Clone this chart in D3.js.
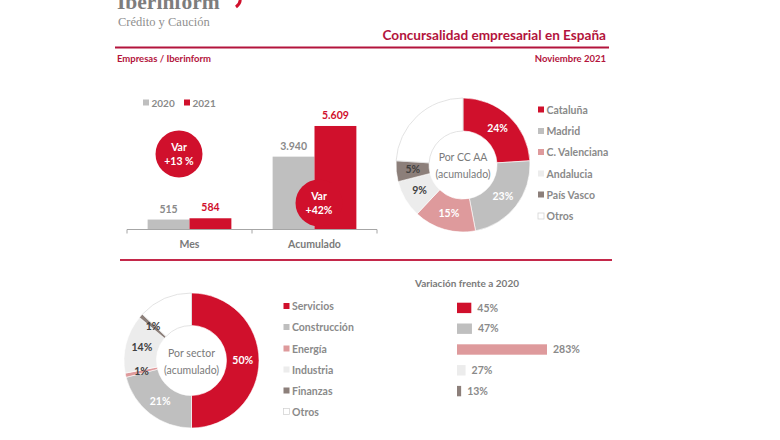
<!DOCTYPE html>
<html><head><meta charset="utf-8">
<script src="https://cdn.jsdelivr.net/npm/d3@7"></script>
<style>
html,body{margin:0;padding:0;background:#fff;}
svg{display:block;font-family:Lato,"Open Sans",sans-serif;}
</style></head>
<body>
<svg id="c" width="780" height="440"></svg>
<script>
// ---------- data ----------
const years = ["2020", "2021"];
const barCategories = ["Mes", "Acumulado"];
const values2020 = [515, 3940];
const values2021 = [584, 5609];
const varLabels = ["+13 %", "+42%"];

const regions = ["Cataluña", "Madrid", "C. Valenciana", "Andalucia", "País Vasco", "Otros"];
const regionShares = [24, 23, 15, 9, 5, 24];
const regionLabels = ["24%", "23%", "15%", "9%", "5%", ""];

const sectors = ["Servicios", "Construcción", "Energía", "Industria", "Finanzas", "Otros"];
const sectorShares = [50, 21, 1, 14, 1, 13];
const sectorLabels = ["50%", "21%", "1%", "14%", "1%", ""];

const variationSectors = ["Servicios", "Construcción", "Energía", "Industria", "Finanzas"];
const variationValues = [45, 47, 283, 27, 13];

// ---------- styles ----------
const RED = "#d0102c", GRAY = "#bfbfbf", PINK = "#de9a9c", LIGHT = "#ececec", BROWN = "#8c7f7a", WHITE = "#ffffff";
const DARKRED = "#b3143c", TXT = "#8a8a8a", DARK = "#404040";
const sliceColors = [RED, GRAY, PINK, LIGHT, BROWN, WHITE];
const svg = d3.select("#c");
const es = d3.formatLocale({decimal: ",", thousands: ".", grouping: [3], currency: ["", "€"]});
const fmt = es.format(",d");

// ---------- header ----------
svg.append("text").attr("x", 117).attr("y", 9).attr("font-family", "'Liberation Serif',serif")
  .attr("font-weight", "bold").attr("font-size", 21.5).attr("fill", "#7d7d7d").text("Iberinform");
svg.append("path").attr("d", "M236,7 Q241,3 240,-1").attr("stroke", RED).attr("stroke-width", 3).attr("fill", "none");
svg.append("text").attr("x", 118).attr("y", 25.5).attr("font-family", "'Liberation Serif',serif")
  .attr("font-size", 12.5).attr("fill", "#8f8f8f").text("Crédito y Caución");
svg.append("text").attr("x", 606).attr("y", 40).attr("text-anchor", "end").attr("font-weight", "bold")
  .attr("font-size", 13.6).attr("fill", DARKRED).text("Concursalidad empresarial en España");
svg.append("line").attr("x1", 115).attr("x2", 609).attr("y1", 47.5).attr("y2", 47.5).attr("stroke", DARKRED).attr("stroke-width", 2);
svg.append("text").attr("x", 117).attr("y", 62).attr("font-weight", "bold").attr("font-size", 9.5)
  .attr("fill", DARKRED).text("Empresas / Iberinform");
svg.append("text").attr("x", 606).attr("y", 62).attr("text-anchor", "end").attr("font-weight", "bold").attr("font-size", 9.5)
  .attr("fill", DARKRED).text("Noviembre 2021");
svg.append("line").attr("x1", 120).attr("x2", 612).attr("y1", 260).attr("y2", 260).attr("stroke", "#c4284a").attr("stroke-width", 2);

// ---------- bar chart ----------
const x0 = d3.scaleBand().domain(barCategories).range([127, 377]).paddingInner(0.33).paddingOuter(0.165);
const x1 = d3.scaleBand().domain(years).range([0, x0.bandwidth()]);
const y = d3.scaleLinear().domain([0, 6000]).range([229, 229 - 110.2]);
const barData = barCategories.map((c, i) => ({cat: c, vals: [values2020[i], values2021[i]]}));
const g = svg.append("g");
barData.forEach(d => {
  d.vals.forEach((v, j) => {
    g.append("rect").attr("x", x0(d.cat) + x1(years[j])).attr("width", x1.bandwidth())
      .attr("y", y(v)).attr("height", y(0) - y(v)).attr("fill", j === 0 ? GRAY : RED);
    g.append("text").attr("x", x0(d.cat) + x1(years[j]) + x1.bandwidth() / 2).attr("y", y(v) - 7)
      .attr("text-anchor", "middle").attr("font-size", 10.5).attr("font-weight", "bold")
      .attr("fill", j === 0 ? TXT : RED).text(fmt(v));
  });
});
// axis
const step = x0.step();
g.append("line").attr("x1", 127).attr("x2", 377).attr("y1", 229.5).attr("y2", 229.5).attr("stroke", "#a6a6a6");
[0, 1, 2].forEach(k => {
  const tx = 127 + k * step;
  g.append("line").attr("x1", tx).attr("x2", tx).attr("y1", 229.5).attr("y2", 233.5).attr("stroke", "#a6a6a6");
});
barCategories.forEach(c => {
  g.append("text").attr("x", x0(c) + x0.bandwidth() / 2).attr("y", 248).attr("text-anchor", "middle")
    .attr("font-size", 10.5).attr("font-weight", "bold").attr("fill", "#7a7a7a").text(c);
});
// legend
[["2020", GRAY, 143], ["2021", RED, 184]].forEach(([t, col, lx]) => {
  g.append("rect").attr("x", lx).attr("y", 99.5).attr("width", 6).attr("height", 6).attr("fill", col);
  g.append("text").attr("x", lx + 8.5).attr("y", 107).attr("font-size", 10).attr("font-weight", "bold").attr("fill", TXT).text(t);
});
// var circles
const circlePos = [[179, 154], [319, 203]];
varLabels.forEach((t, i) => {
  const [cx, cy] = circlePos[i];
  g.append("circle").attr("cx", cx).attr("cy", cy).attr("r", 23.5).attr("fill", RED);
  g.append("text").attr("x", cx).attr("y", cy - 3).attr("text-anchor", "middle").attr("font-size", 10.5)
    .attr("font-weight", "bold").attr("fill", "#fff").text("Var");
  g.append("text").attr("x", cx).attr("y", cy + 11).attr("text-anchor", "middle").attr("font-size", 10.5)
    .attr("font-weight", "bold").attr("fill", "#fff").text(t);
});

// ---------- donuts ----------
function donut(cx, cy, ri, ro, names, shares, labels, center, whiteIdx) {
  const pie = d3.pie().sort(null).value(d => d.v);
  const arcs = pie(names.map((n, i) => ({n, v: shares[i], l: labels[i], i})));
  const arc = d3.arc().innerRadius(ri).outerRadius(ro);
  const gg = svg.append("g").attr("transform", `translate(${cx},${cy})`);
  gg.selectAll("path").data(arcs).join("path").attr("d", arc)
    .attr("fill", d => sliceColors[d.data.i])
    .attr("stroke", d => d.data.i === 5 ? "#dcdcdc" : "#fff").attr("stroke-width", d => d.data.i === 5 ? 0.8 : 0.6);
  gg.selectAll("text.l").data(arcs).join("text").attr("class", "l")
    .attr("transform", d => `translate(${arc.centroid(d)})`).attr("dy", "0.35em")
    .attr("text-anchor", "middle").attr("font-size", 10.5).attr("font-weight", "bold")
    .attr("fill", d => whiteIdx.includes(d.data.i) ? "#fff" : DARK).text(d => d.data.l);
  center.forEach((t, k) => {
    gg.append("text").attr("x", 0).attr("y", -4 + k * 17).attr("text-anchor", "middle")
      .attr("font-size", 10.5).attr("fill", "#7a7a7a").text(t);
  });
}
donut(463, 165, 34, 67, regions, regionShares, regionLabels, ["Por CC AA", "(acumulado)"], [0, 1, 2]);
donut(191.5, 360.5, 35, 67.5, sectors, sectorShares, sectorLabels, ["Por sector", "(acumulado)"], [0, 1]);

function legend(x, ys, names) {
  names.forEach((n, i) => {
    svg.append("rect").attr("x", x).attr("y", ys[i] - 3.5).attr("width", 6).attr("height", 6)
      .attr("fill", sliceColors[i]).attr("stroke", i === 5 ? "#cfcfcf" : "none").attr("stroke-width", 0.7);
    svg.append("text").attr("x", x + 8.5).attr("y", ys[i] + 3.5).attr("font-size", 10.5).attr("font-weight", "bold")
      .attr("fill", TXT).text(n);
  });
}
legend(538, [110, 131.5, 152.5, 174, 195, 216.5], regions);
legend(283.5, [306.5, 327.5, 349, 370, 391, 412], sectors);

// ---------- variation bars ----------
svg.append("text").attr("x", 415).attr("y", 287).attr("font-size", 10).attr("font-weight", "bold")
  .attr("fill", "#7a7a7a").text("Variación frente a 2020");
const vy = d3.scaleBand().domain(variationSectors).range([297.5, 401.5]).paddingInner(0.5).paddingOuter(0.25);
const vx = d3.scaleLinear().domain([0, 283]).range([457, 547]);
variationSectors.forEach((s, i) => {
  const v = variationValues[i];
  svg.append("rect").attr("x", vx(0)).attr("y", vy(s)).attr("width", vx(v) - vx(0)).attr("height", vy.bandwidth())
    .attr("fill", sliceColors[i]);
  svg.append("text").attr("x", vx(v) + 6).attr("y", vy(s) + vy.bandwidth() / 2).attr("dy", "0.35em")
    .attr("font-size", 10.5).attr("font-weight", "bold").attr("fill", TXT).text(v + "%");
});
</script>
</body></html>
